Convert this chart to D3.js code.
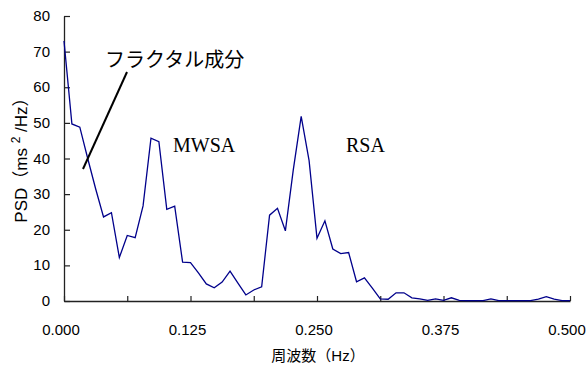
<!DOCTYPE html>
<html>
<head>
<meta charset="utf-8">
<style>
  body { margin: 0; background: #fff; }
  text { font-family: "Liberation Sans", Arial, "Noto Sans CJK JP", sans-serif; }
  .serif { font-family: "Liberation Serif", "Times New Roman", serif; }
</style>
</head>
<body>
<script src="https://cdn.jsdelivr.net/npm/d3@7"></script>
<script>
// PSD values, one per frequency bin (0 .. 0.5 Hz, step 1/128)
var psd = [73, 49.7, 48.8, 40, 31.5, 23.6, 24.8, 12.2, 18.4, 17.8,
           26.7, 45.7, 44.7, 25.7, 26.6, 10.9, 10.8, 7.9, 4.8, 3.7,
           5.3, 8.4, 5.0, 1.7, 3.1, 4.0, 24.1, 26.0, 19.7, 36.8,
           51.8, 39.4, 17.6, 22.5, 14.6, 13.3, 13.6, 5.4, 6.5, 3.6,
           0.6, 0.5, 2.3, 2.3, 0.9, 0.6, 0.2, 0.6, 0.2, 0.9,
           0.2, 0.1, 0.1, 0.1, 0.6, 0.1, 0.1, 0.1, 0.1, 0.1,
           0.5, 1.2, 0.5, 0.1, 0.1];
var freqStep = 1 / 128;
var xTicks = [0, 0.0625, 0.125, 0.1875, 0.25, 0.3125, 0.375, 0.4375, 0.5];
var xLabels = [0, 0.125, 0.25, 0.375, 0.5];
var yTicks = [0, 10, 20, 30, 40, 50, 60, 70, 80];

var W = 586, H = 365;
var plotL = 64, plotR = 570, plotT = 16, plotB = 301;

var svg = d3.select("body").append("svg")
  .attr("width", W).attr("height", H);

var x = d3.scaleLinear().domain([0, 0.5]).range([plotL, plotR]);
var y = d3.scaleLinear().domain([0, 80]).range([plotB, plotT]);

// axes: ticks point inward
svg.append("g")
  .attr("transform", "translate(0," + plotB + ")")
  .call(d3.axisBottom(x).tickValues(xTicks).tickSize(-5).tickSizeOuter(0).tickFormat(""));
svg.append("g")
  .attr("transform", "translate(" + plotL + ",0)")
  .call(d3.axisLeft(y).tickValues(yTicks).tickSize(-6).tickSizeOuter(0).tickFormat(""));
svg.selectAll(".domain").attr("stroke", "#222").attr("stroke-width", 1.3);
svg.selectAll(".tick line").attr("stroke", "#222").attr("stroke-width", 1.2);

svg.append("g").selectAll("text").data(xLabels).enter().append("text")
  .attr("x", function(d){ return x(d) - 3; })
  .attr("y", 335)
  .attr("text-anchor", "middle")
  .attr("font-size", 15)
  .text(function(d){ return d3.format(".3f")(d); });

svg.append("g").selectAll("text").data(yTicks).enter().append("text")
  .attr("x", 50)
  .attr("y", function(d){ return y(d) + 5; })
  .attr("text-anchor", "end")
  .attr("font-size", 15)
  .text(function(d){ return d; });

// axis titles
svg.append("text")
  .attr("x", 318).attr("y", 361)
  .attr("text-anchor", "middle")
  .attr("font-size", 15)
  .text("周波数（Hz）");

var yt = svg.append("text")
  .attr("transform", "translate(27,156) rotate(-90)")
  .attr("text-anchor", "middle")
  .attr("font-size", 17);
yt.append("tspan").text("PSD（ms ");
yt.append("tspan").attr("dy", -7).attr("font-size", 12).text("2");
yt.append("tspan").attr("dy", 7).text(" /Hz）");

// the spectrum line
var line = d3.line()
  .x(function(d, i){ return x(i * freqStep); })
  .y(function(d){ return y(d); });

svg.append("path")
  .datum(psd)
  .attr("d", line)
  .attr("fill", "none")
  .attr("stroke", "#00008b")
  .attr("stroke-width", 1.3);

// annotations
svg.append("text")
  .attr("x", 105).attr("y", 67)
  .attr("font-size", 20)
  .text("フラクタル成分");
svg.append("line")
  .attr("x1", 127).attr("y1", 72).attr("x2", 83).attr("y2", 169)
  .attr("stroke", "#000").attr("stroke-width", 2);

svg.append("text").attr("class", "serif")
  .attr("x", 173).attr("y", 152)
  .attr("font-size", 20)
  .text("MWSA");
svg.append("text").attr("class", "serif")
  .attr("x", 346).attr("y", 152)
  .attr("font-size", 20)
  .text("RSA");
</script>
</body>
</html>
